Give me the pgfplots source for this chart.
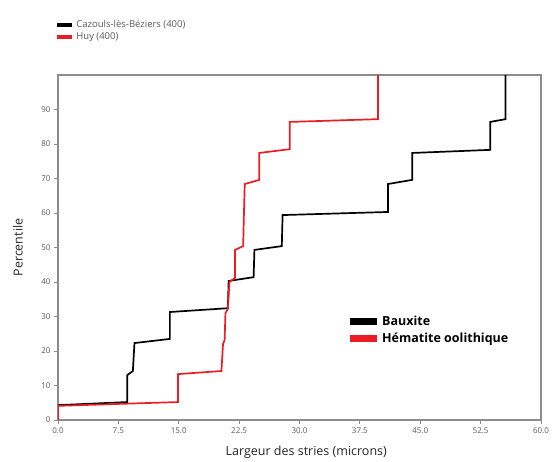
\documentclass[border=0pt]{standalone}
\usepackage{pgfplots}
\pgfplotsset{compat=1.18}
\usepackage{fontspec}
\setmainfont{Open Sans}
\definecolor{axgray}{RGB}{140,140,140}
\definecolor{tickgray}{RGB}{90,90,90}
\definecolor{hred}{RGB}{235,28,36}
\begin{document}
\begin{tikzpicture}
\path (-58pt,-41pt) rectangle (499pt,420pt);
\begin{axis}[
  at={(0,0)}, anchor=south west,
  width=483pt, height=345pt, scale only axis,
  xmin=0, xmax=60, ymin=0, ymax=100,
  xtick={0,7.5,15,22.5,30,37.5,45,52.5,60},
  ytick={0,10,20,30,40,50,60,70,80,90},
  xtick pos=bottom, ytick pos=left, tick align=outside,
  major tick length=4pt,
  axis line style={axgray, line width=1.2pt},
  every tick/.style={axgray, line width=0.9pt},
  tick label style={font=\fontsize{8}{9}\selectfont, text=tickgray},
  /pgf/number format/assume math mode=true,
  xticklabel style={/pgf/number format/.cd, fixed, fixed zerofill, precision=1},
  yticklabel style={/pgf/number format/.cd, fixed, precision=0},
  xlabel={Largeur des stries (microns)},
  ylabel={Percentile},
  label style={font=\fontsize{12.5}{14}\selectfont, text=black!85},
  xlabel style={at={(axis description cs:0.514,-0.093)}, anchor=center},
  ylabel style={at={(axis description cs:-0.083,0.5)}, anchor=center},
  legend style={at={(axis description cs:0.59,0.315)}, anchor=north west, draw=none, fill=none,
    font=\bfseries\fontsize{12.5}{13}\selectfont, row sep=2pt},
  legend cell align=left,
  legend image code/.code={\draw[#1, line width=7pt, line cap=butt] (0pt,0pt) -- (27pt,0pt);},
]
\addplot[black, line width=1.7pt] coordinates {
(0,4.3) (8.6,5.2) (8.6,13) (9.3,14.2) (9.5,22.3) (13.9,23.5) (13.9,31.3) (21.1,32.4) (21.2,40.3) (24.3,41.4) (24.4,49.3) (27.8,50.4) (27.9,59.4) (41,60.3) (41,68.4) (44,69.6) (44,77.4) (53.7,78.3) (53.7,86.4) (55.6,87.2) (55.6,100)
};
\addlegendentry{Bauxite}
\addplot[hred, line width=1.7pt] coordinates {
(0,0) (0,4.1) (14.9,5.2) (14.9,13.3) (20.3,14.2) (20.5,22) (20.7,23.2) (20.8,31) (21.1,32.2) (21.3,40) (22,41.2) (22,49.3) (23,50.4) (23.1,60) (23.2,68.4) (25,69.6) (25,77.4) (28.8,78.5) (28.8,86.4) (39.75,87.2) (39.75,100)
};
\addlegendentry{Hématite oolithique}
\end{axis}
\begin{axis}[
  at={(0,0)}, anchor=south west,
  width=483pt, height=345pt, scale only axis,
  xmin=0, xmax=60, ymin=0, ymax=100, hide axis,
  legend style={at={(axis description cs:-0.012,1.17)}, anchor=north west, draw=none, fill=none,
    font=\fontsize{9.5}{10}\selectfont, text=tickgray, row sep=-0.5pt},
  legend cell align=left,
  legend image code/.code={\draw[#1, line width=4pt, line cap=butt] (0pt,0pt) -- (15pt,0pt);},
]
\addlegendimage{black}
\addlegendentry{Cazouls-lès-Béziers (400)}
\addlegendimage{hred}
\addlegendentry{Huy (400)}
\end{axis}
\end{tikzpicture}
\end{document}
